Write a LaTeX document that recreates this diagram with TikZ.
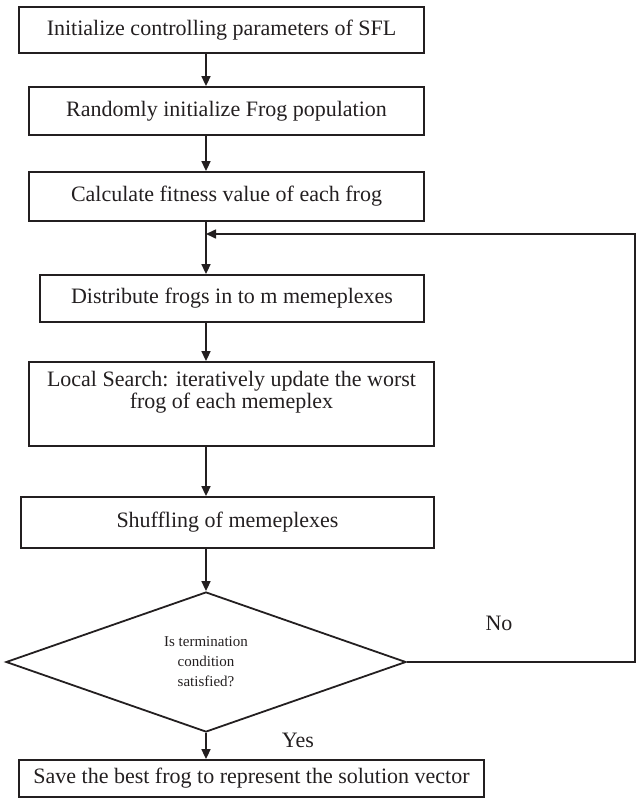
\documentclass[tikz,border=0pt]{standalone}
\usepackage{fontspec}
\setmainfont{Liberation Serif}
\usetikzlibrary{shapes.geometric,arrows.meta}
\definecolor{ln}{HTML}{231F20}
\begin{document}
\begin{tikzpicture}[x=1pt,y=-1pt,
  box/.style={draw=ln,line width=1.8pt,rectangle,inner sep=0pt,align=center,
    font=\fontsize{22}{22}\selectfont,text=ln},
  dec/.style={draw=ln,line width=1.8pt,diamond,inner sep=0pt,align=center,
    font=\fontsize{15}{20}\selectfont,text=ln},
  lbl/.style={inner sep=0pt,font=\fontsize{22}{22}\selectfont,text=ln},
  arr/.style={draw=ln,line width=1.6pt,-{Triangle[length=10pt,width=9pt]}},
  conn/.style={draw=ln,line width=1.6pt}]
\useasboundingbox (0,0) rectangle (639,798);
\coordinate (sp) at (206,0);
\node[box,minimum width=405pt,minimum height=46pt] (b1) at (221.5,30) {Initialize controlling parameters of SFL};
\node[box,minimum width=395pt,minimum height=48pt] (b2) at (226.5,111) {Randomly initialize Frog population};
\node[box,minimum width=395pt,minimum height=49pt] (b3) at (226.5,196.5) {Calculate fitness value of each frog};
\node[box,minimum width=384pt,minimum height=47pt] (b4) at (232,298.5) {Distribute frogs in to m memeplexes};
\node[box,minimum width=405pt,minimum height=84pt] (b5) at (231.5,404) {Local Search: iteratively update the worst\\frog of each memeplex\\\strut};
\node[box,minimum width=413pt,minimum height=51pt] (b6) at (227.5,522.5) {Shuffling of memeplexes};
\node[dec,minimum width=400pt,minimum height=140pt] (dia) at (206,662) {Is termination\\condition\\satisfied?};
\node[box,minimum width=465pt,minimum height=37pt] (b7) at (251.5,778.5) {Save the best frog to represent the solution vector};
\node[lbl] (no) at (499,623) {No};
\node[lbl] (yes) at (298,740) {Yes};
\coordinate (fbR) at (635,234);
\coordinate (mg) at (206,234);
\draw[arr] (b1.south -| sp) -- (b2.north -| sp);
\draw[arr] (b2.south -| sp) -- (b3.north -| sp);
\draw[arr] (b3.south -| sp) -- (b4.north -| sp);
\draw[arr] (b4.south -| sp) -- (b5.north -| sp);
\draw[arr] (b5.south -| sp) -- (b6.north -| sp);
\draw[arr] (b6.south -| sp) -- (dia.north);
\draw[arr] (dia.south) -- (b7.north -| dia.south);
\draw[arr] (dia.east) -| (fbR) -- (mg);
\end{tikzpicture}
\end{document}
